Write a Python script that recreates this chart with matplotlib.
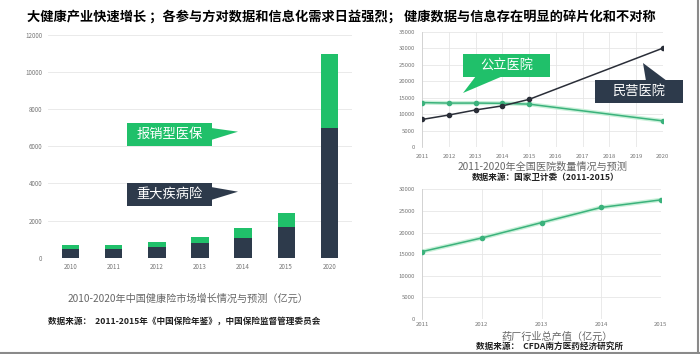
import numpy as np
import matplotlib.pyplot as plt
from matplotlib.patches import Polygon, Rectangle
from matplotlib.lines import Line2D

plt.rcParams['font.family'] = ['Noto Sans CJK SC', 'DejaVu Sans']

# 健康险市场 (亿元)
anos_seguro = ['2010', '2011', '2012', '2013', '2014', '2015', '2020']
doenca_grave = [470, 480, 590, 780, 1080, 1670, 7000]
reembolso = [210, 200, 270, 340, 500, 740, 4000]

# 医院数量
anos_hosp = [2011, 2012, 2013, 2014, 2015, 2020]
publico = [13539, 13384, 13396, 13314, 13069, 8000]
privado = [8440, 9786, 11313, 12546, 14518, 30000]

# 药厂行业总产值
anos_farma = [2011, 2012, 2013, 2014, 2015]
producao = [15600, 18750, 22300, 25800, 27550]

W, H = 700, 354
verde = '#20c06a'
escuro = '#2d3a4b'
linha_verde = '#3bb27c'
linha_escura = '#2a2e38'
cinza_txt = '#777777'
grade = '#e6e6e6'

fig = plt.figure(figsize=(7, 3.54), dpi=100)
fig.patch.set_facecolor('white')


def px(x, y):
    return (x / W, 1 - y / H)


def caixa(x0, y0, x1, y1, tri, cor, texto):
    p0 = px(x0, y1)
    fig.add_artist(Rectangle(p0, (x1 - x0) / W, (y1 - y0) / H, transform=fig.transFigure,
                             facecolor=cor, edgecolor='none', zorder=5))
    fig.add_artist(Polygon([px(*t) for t in tri], closed=True, transform=fig.transFigure,
                           facecolor=cor, edgecolor='none', zorder=5))
    cx, cy = px((x0 + x1) / 2, (y0 + y1) / 2)
    fig.text(cx, cy, texto, color='white', fontsize=9.5, ha='center', va='center', zorder=6)


# titulo principal
fig.text(27 / W, 1 - 16.5 / H, '大健康产业快速增长 ；各参与方对数据和信息化需求日益强烈； 健康数据与信息存在明显的碎片化和不对称',
         fontsize=9.5, fontweight='bold', ha='left', va='center', color='black')

# ---- grafico de barras ----
ax1 = fig.add_axes([48 / W, 1 - 257.7 / H, 304 / W, (257.7 - 35) / H])
x = np.arange(len(anos_seguro))
ax1.bar(x, doenca_grave, width=0.4, color=escuro, zorder=3)
ax1.bar(x, reembolso, width=0.4, bottom=doenca_grave, color=verde, zorder=3)
ax1.set_xlim(-0.53, 6.53)
ax1.set_ylim(0, 12000)
ax1.set_yticks(range(0, 12001, 2000))
ax1.set_xticks(x)
ax1.set_xticklabels(anos_seguro)
ax1.grid(axis='y', color=grade, linewidth=0.6, zorder=0)
for s in ax1.spines.values():
    s.set_visible(False)
ax1.tick_params(length=0, labelsize=4.5, colors=cinza_txt, pad=4)

caixa(127, 123, 212, 146, [(211, 128), (238, 131.7), (211, 140)], verde, '报销型医保')
caixa(127, 183, 212, 206, [(211, 187), (238, 191.7), (211, 200)], escuro, '重大疾病险')

fig.text(188 / W, 1 - 299 / H, '2010-2020年中国健康险市场增长情况与预测（亿元）',
         fontsize=7.3, color='#666666', ha='center', va='center')
fig.text(184 / W, 1 - 321 / H, '数据来源：  2011-2015年《中国保险年鉴》，中国保险监督管理委员会',
         fontsize=6.2, fontweight='bold', color='#222222', ha='center', va='center')

# ---- hospitais ----
ax2 = fig.add_axes([422.3 / W, 1 - 147.3 / H, 240.4 / W, 115.6 / H])
ax2.plot(anos_hosp, publico, color='#c8f0d8', linewidth=3, zorder=2)
ax2.plot(anos_hosp, publico, color=linha_verde, linewidth=1.1, marker='o', markersize=3, zorder=3)
ax2.plot(anos_hosp, privado, color=linha_escura, linewidth=1.1, marker='o', markersize=3, zorder=4)
ax2.set_xlim(2011, 2020)
ax2.set_ylim(0, 35000)
ax2.set_xticks(range(2011, 2021))
ax2.set_yticks(range(0, 35001, 5000))
ax2.grid(True, color=grade, linewidth=0.6, zorder=0)
for s in ax2.spines.values():
    s.set_visible(False)
ax2.spines['left'].set_visible(True)
ax2.spines['left'].set_color('#cfcfcf')
ax2.spines['left'].set_linewidth(0.6)
ax2.tick_params(length=0, labelsize=4.3, colors=cinza_txt, pad=5)
ax2.set_axisbelow(True)

caixa(463, 54, 550, 77, [(476, 76), (463, 93), (503, 76)], verde, '公立医院')
caixa(595, 80, 683, 103, [(646, 81), (643, 63), (667, 81)], escuro, '民营医院')

fig.text(543 / W, 1 - 166.5 / H, '2011-2020年全国医院数量情况与预测',
         fontsize=7.3, color='#666666', ha='center', va='center')
fig.text(546 / W, 1 - 177.5 / H, '数据来源：国家卫计委（2011-2015）',
         fontsize=6.2, fontweight='bold', color='#222222', ha='center', va='center')

# ---- producao farmaceutica ----
ax3 = fig.add_axes([422.3 / W, 1 - 319 / H, 238.4 / W, 129.7 / H])
ax3.plot(anos_farma, producao, color='#c8f0d8', linewidth=3, zorder=2)
ax3.plot(anos_farma, producao, color=linha_verde, linewidth=1.1, marker='o', markersize=3, zorder=3)
ax3.set_xlim(2011, 2015)
ax3.set_ylim(0, 30000)
ax3.set_xticks(anos_farma)
ax3.set_yticks(range(0, 30001, 5000))
ax3.grid(True, color=grade, linewidth=0.6, zorder=0)
for s in ax3.spines.values():
    s.set_visible(False)
ax3.spines['left'].set_visible(True)
ax3.spines['left'].set_color('#cfcfcf')
ax3.spines['left'].set_linewidth(0.6)
ax3.tick_params(axis='y', length=0, labelsize=4.3, colors=cinza_txt, pad=5)
ax3.tick_params(axis='x', length=0, labelsize=4.3, colors=cinza_txt, pad=2.5)
ax3.set_axisbelow(True)

fig.text(557 / W, 1 - 336.5 / H, '药厂行业总产值（亿元）',
         fontsize=7.3, color='#666666', ha='center', va='center')
fig.text(549 / W, 1 - 346.3 / H, '数据来源：  CFDA南方医药经济研究所',
         fontsize=6.2, fontweight='bold', color='#222222', ha='center', va='center')

# bordas
fig.add_artist(Line2D([0, 1], [1 - 352.5 / H] * 2, transform=fig.transFigure, color='#8a8a8a', linewidth=1.5))
fig.add_artist(Line2D([697.8 / W] * 2, [0, 1], transform=fig.transFigure, color='#8a8a8a', linewidth=1.5))

fig.savefig('out.png', dpi=100, facecolor='white')
